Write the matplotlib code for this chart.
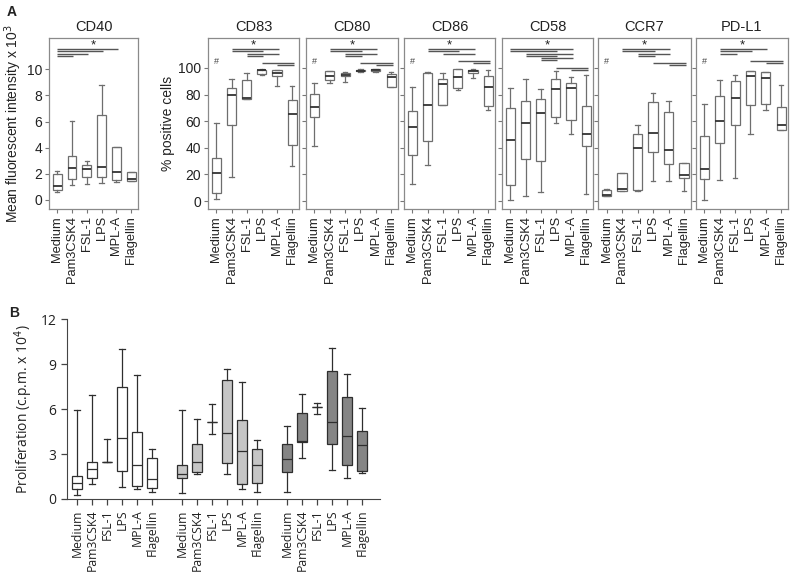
import matplotlib
matplotlib.use("Agg")
import matplotlib.pyplot as plt
import matplotlib.transforms as mtransforms

plt.rcParams["font.family"] = ["Liberation Sans", "DejaVu Sans"]

categories = ["Medium", "Pam3CSK4", "FSL-1", "LPS", "MPL-A", "Flagellin"]

# Panel A: (whisker low, q1, median, q3, whisker high) per category
cd40 = [(0.62, 0.75, 1.1, 2.0, 2.2), (1.15, 1.58, 2.42, 3.36, 6.06), (1.22, 1.73, 2.37, 2.67, 3.0),
        (1.27, 1.78, 2.49, 6.49, 8.8), (1.4, 1.53, 2.16, 4.02, 4.02), (1.42, 1.48, 1.58, 2.1, 2.11)]
cd83 = [(1.3, 6.3, 21.4, 32.2, 58.5), (18.3, 57.3, 80.0, 85.0, 92.0), (77.0, 76.9, 77.4, 91.2, 96.2),
        (95.0, 95.7, 98.2, 98.7, 99.2), (86.7, 93.7, 96.2, 98.2, 98.7), (26.4, 42.2, 65.3, 76.1, 86.2)]
cd80 = [(41.5, 63.1, 70.6, 80.7, 88.7), (88.7, 90.7, 94.2, 97.5, 98.0), (89.4, 93.7, 94.7, 96.2, 96.7),
        (97.0, 97.5, 98.0, 98.7, 99.0), (97.2, 97.7, 98.2, 99.0, 99.2), (85.7, 85.7, 93.2, 95.7, 97.0)]
cd86 = [(12.6, 34.7, 55.3, 67.8, 85.7), (27.0, 45.3, 72.3, 96.2, 97.0), (72.5, 72.5, 87.7, 91.9, 96.5),
        (83.6, 84.9, 93.2, 99.0, 99.5), (92.7, 96.5, 97.5, 98.7, 99.0), (68.5, 71.3, 85.6, 93.7, 98.2)]
cd58 = [(0.5, 12.1, 46.1, 70.0, 84.9), (3.8, 31.5, 58.7, 75.0, 91.9), (6.7, 29.9, 66.4, 76.4, 83.8),
        (59.0, 63.4, 83.8, 91.8, 98.0), (50.2, 60.7, 85.1, 88.8, 93.3), (5.0, 41.5, 50.2, 71.4, 95.0)]
ccr7 = [(3.5, 3.7, 4.7, 8.5, 8.7), (7.2, 7.2, 8.7, 20.9, 20.9), (7.5, 8.0, 39.8, 50.2, 57.0),
        (14.7, 37.0, 51.0, 74.4, 80.8), (15.1, 28.1, 38.4, 66.6, 74.9), (7.3, 17.6, 19.6, 28.9, 28.9)]
pdl1 = [(0.8, 16.8, 24.4, 49.0, 72.9), (15.6, 43.5, 60.3, 78.6, 91.0), (17.6, 57.0, 77.1, 90.0, 94.7),
        (50.3, 72.1, 93.7, 97.5, 98.0), (68.3, 72.9, 92.5, 96.7, 97.2), (53.5, 53.5, 57.0, 70.9, 87.4)]

marker_names = ["CD40", "CD83", "CD80", "CD86", "CD58", "CCR7", "PD-L1"]
marker_data = [cd40, cd83, cd80, cd86, cd58, ccr7, pdl1]
hash_marked = ["CD83", "CD80", "CD86", "CCR7", "PD-L1"]

# significance bars (category numbers, 1-based), grouped
sig_bars = {
    "CD40": [[(1, 5), (1, 4), (1, 3), (1, 2)]],
    "CD83": [[(2, 5), (2, 4), (3, 5), (3, 4)], [(4, 6), (5, 6)]],
    "CD80": [[(2, 5), (2, 4), (3, 5), (3, 4)], [(4, 6), (5, 6)]],
    "CD86": [[(2, 5), (2, 4), (3, 5)], [(4, 6), (5, 6)]],
    "CD58": [[(1, 5), (1, 4), (2, 5), (2, 4), (3, 5), (3, 4)], [(4, 6), (5, 6)]],
    "CCR7": [[(2, 5), (2, 4), (3, 5), (3, 4)], [(4, 6), (5, 6)]],
    "PD-L1": [[(2, 5), (2, 4), (2, 3)], [(4, 6), (5, 6)]],
}

# Panel B: proliferation, three groups
prolif_g1 = [(0.25, 0.65, 1.05, 1.55, 5.95), (0.97, 1.42, 1.97, 2.47, 6.95), (2.45, 2.5, 2.5, 2.5, 4.0),
             (0.8, 1.9, 4.1, 7.5, 10.0), (0.65, 0.9, 2.3, 4.45, 8.25), (0.5, 0.75, 1.35, 2.75, 3.35)]
prolif_g2 = [(0.42, 1.38, 1.64, 2.3, 5.95), (1.67, 1.82, 2.5, 3.64, 5.33), (4.31, 5.15, 5.15, 5.15, 6.31),
             (1.64, 2.38, 4.38, 7.93, 8.67), (0.64, 1.02, 3.2, 5.27, 7.82), (0.44, 1.04, 2.27, 3.33, 3.93)]
prolif_g3 = [(0.44, 1.82, 2.64, 3.64, 4.87), (2.71, 3.82, 3.87, 5.76, 6.98), (5.67, 6.16, 6.16, 6.16, 6.38),
             (1.93, 3.67, 5.16, 8.53, 10.09), (1.38, 2.27, 4.2, 6.82, 8.31), (1.76, 1.89, 3.58, 4.53, 6.04)]
group_colors = ["white", "#c6c6c6", "#858585"]


def to_stats(rows):
    return [{"whislo": r[0], "q1": r[1], "med": r[2], "q3": r[3], "whishi": r[4], "fliers": []} for r in rows]


fig = plt.figure(figsize=(8, 5.77), dpi=100)
W, H = 800.0, 577.0
txt = "#222222"
edge = "#6e6e6e"

lefts = [49, 208, 306, 404, 502, 598, 696]
rights = [138, 299, 398, 495, 593, 691, 788]
top_px, bot_px = 38, 209

for k, name in enumerate(marker_names):
    ax = fig.add_axes([lefts[k] / W, 1 - bot_px / H, (rights[k] - lefts[k]) / W, (bot_px - top_px) / H])
    pos = list(range(1, 7))
    ax.bxp(to_stats(marker_data[k]), positions=pos, widths=0.6, capwidths=0.3, showfliers=False,
           patch_artist=True,
           boxprops=dict(facecolor="white", edgecolor=edge, linewidth=0.9),
           medianprops=dict(color="#333333", linewidth=1.3),
           whiskerprops=dict(color=edge, linewidth=0.9),
           capprops=dict(color=edge, linewidth=0.9))
    ax.set_xlim(0.45, 6.45)
    if name == "CD40":
        ax.set_ylim(-0.7, 12.4)
        ax.set_yticks([0, 2, 4, 6, 8, 10])
        ax.set_ylabel("Mean fluorescent intensity x 10$^3$", fontsize=10, color=txt, labelpad=2)
    else:
        ax.set_ylim(-6, 122.5)
        ax.set_yticks([0, 20, 40, 60, 80, 100])
        if name == "CD83":
            ax.set_ylabel("% positive cells", fontsize=10, color=txt, labelpad=2)
        else:
            ax.tick_params(axis="y", labelleft=False)
    ax.set_xticks(pos)
    ax.set_xticklabels(categories, rotation=90, fontsize=9.3, color=txt)
    ax.tick_params(axis="y", labelsize=10, labelcolor=txt)
    ax.tick_params(direction="out", length=3, color="#777777", width=0.8, pad=2)
    for sp in ax.spines.values():
        sp.set_color("#8a8a8a")
        sp.set_linewidth(0.9)
    ax.set_title(name, fontsize=10.5, color=txt, pad=5)

    trans = mtransforms.blended_transform_factory(ax.transData, ax.transAxes)
    yy = 0.935
    for gi, grp in enumerate(sig_bars[name]):
        if gi > 0:
            yy -= 0.03
        for (a, b) in grp:
            ax.plot([a, b + 0.1], [yy, yy], transform=trans, color="#555555", linewidth=1.0,
                    solid_capstyle="butt", clip_on=False)
            yy -= 0.013
    ax.text(3.45, 0.955, "*", transform=trans, ha="center", va="center", fontsize=9.5, color=txt)
    if name in hash_marked:
        ax.text(1, 0.865, "#", transform=trans, ha="center", va="center", fontsize=6.5, color="#444444")

fig.text(7 / W, 1 - 12 / H, "A", fontsize=10, fontweight="bold", va="center", color=txt)
fig.text(9 / W, 1 - 313 / H, "B", fontsize=10, fontweight="bold", va="center", color=txt)

# Panel B
axb = fig.add_axes([67 / W, 1 - 499 / H, 313 / W, 180 / H])
groups = [prolif_g1, prolif_g2, prolif_g3]
all_pos, all_labels = [], []
for g, rows in enumerate(groups):
    pos = [i + 7 * g for i in range(6)]
    axb.bxp(to_stats(rows), positions=pos, widths=0.67, capwidths=0.4, showfliers=False,
            patch_artist=True,
            boxprops=dict(facecolor=group_colors[g], edgecolor="#2e2e2e", linewidth=0.9),
            medianprops=dict(color="#2e2e2e", linewidth=0.9),
            whiskerprops=dict(color="#2e2e2e", linewidth=0.9),
            capprops=dict(color="#2e2e2e", linewidth=0.9))
    all_pos += pos
    all_labels += categories
axb.set_xlim(-0.67, 20.2)
axb.set_ylim(0, 12)
axb.set_yticks([0, 3, 6, 9, 12])
axb.set_xticks(all_pos)
axb.set_xticklabels(all_labels, rotation=90, fontsize=8.8, color=txt, family=["Open Sans", "DejaVu Sans"])
for lab in axb.get_yticklabels():
    lab.set_family(["Open Sans", "DejaVu Sans"])
axb.tick_params(axis="y", labelsize=10, labelcolor=txt)
axb.tick_params(direction="out", length=4, color="#444444", width=0.9)
axb.spines["top"].set_visible(False)
axb.spines["right"].set_visible(False)
axb.spines["left"].set_color("#444444")
axb.spines["bottom"].set_color("#444444")
axb.set_ylabel("Proliferation (c.p.m. x 10$^4$)", fontsize=10, color=txt, labelpad=4,
               family=["Open Sans", "DejaVu Sans"])

fig.savefig("out.png", dpi=100)
